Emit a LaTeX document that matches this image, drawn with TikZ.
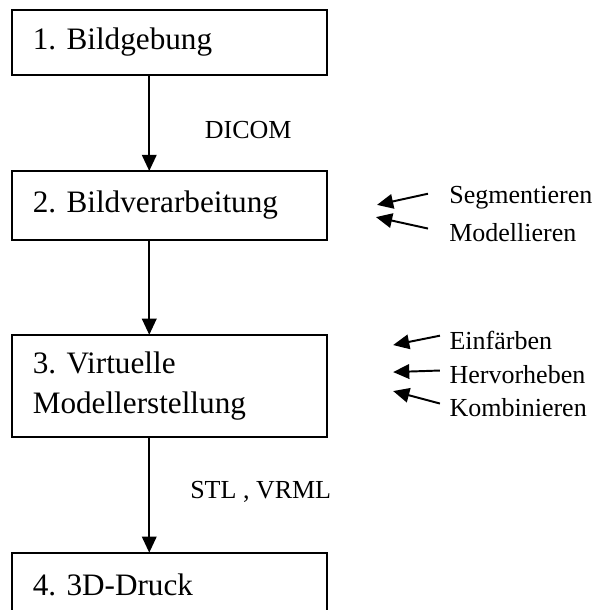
\documentclass[tikz,border=0pt]{standalone}
\usepackage{fontspec}
\setmainfont{Liberation Serif}
\frenchspacing
\usetikzlibrary{positioning,arrows.meta}

\begin{document}
\begin{tikzpicture}[
        x=1pt, y=1pt,
        stage/.style={rectangle, draw=black, line width=0.75pt, outer sep=0pt, inner xsep=8pt, text width=105pt, align=left, font=\fontsize{12}{15.4}\selectfont},
        note/.style={inner sep=0pt, font=\fontsize{10}{12}\selectfont},
        side/.style={anchor=west, inner xsep=#1, inner ysep=0pt, font=\fontsize{10}{12}\selectfont},
        side/.default=8pt,
        arrow/.style={line width=0.75pt, -{Triangle[length=6.2pt, width=5.6pt]}}
    ]
        \useasboundingbox (0,0) rectangle (230,-234.6);

        % Nodes
        \node (bild) [stage, minimum height=25pt, anchor=north west] at (4.6,-3.85) {1. Bildgebung};
        \node (verarb) [stage, minimum height=26.5pt, below=36.9pt of bild] {2. Bildverarbeitung};
        \node (modell) [stage, minimum height=39.2pt, below=36.5pt of verarb] {3. Virtuelle\\Modellerstellung};
        \node (druck) [stage, minimum height=25pt, below=44.6pt of modell] {4. 3D-Druck};

        % Steps at the side
        \node (seg) [side] at (164.6,-76.2) {Segmentieren};
        \node (mod) [side] at (164.6,-89.6) {Modellieren};
        \node (einf) [side=3.5pt] at (169.2,-130.8) {Einfärben};
        \node (herv) [side=3.5pt] at (169.2,-144.2) {Hervorheben};
        \node (komb) [side=3.5pt] at (169.2,-156.9) {Kombinieren};

        \coordinate (segtip) at (145,-78.8);
        \coordinate (modtip) at (144.6,-83.5);
        \coordinate (einftip) at (151.2,-132.7);
        \coordinate (hervtip) at (151.2,-143.1);
        \coordinate (kombtip) at (151.2,-150.4);

        % Flow
        \draw [arrow] ([xshift=-7.7pt]bild.south) -- ([xshift=-7.7pt]verarb.north) node[pos=0.57, right=21pt, note] {DICOM};
        \draw [arrow] ([xshift=-7.7pt]verarb.south) -- ([xshift=-7.7pt]modell.north);
        \draw [arrow] ([xshift=-7.7pt]modell.south) -- ([xshift=-7.7pt]druck.north) node[pos=0.48, right=15.4pt, note] {STL , VRML};

        \draw [arrow] ([yshift=1.7pt]seg.west) -- (segtip);
        \draw [arrow] ([yshift=1.7pt]mod.west) -- (modtip);
        \draw [arrow] ([yshift=1.7pt]einf.west) -- (einftip);
        \draw [arrow] ([yshift=1.7pt]herv.west) -- (hervtip);
        \draw [arrow] ([yshift=1.7pt]komb.west) -- (kombtip);
    \end{tikzpicture}
\end{document}
